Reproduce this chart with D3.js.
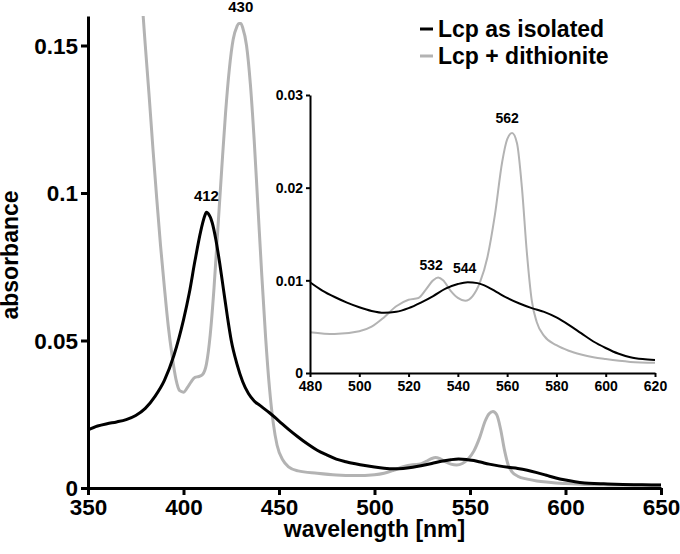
<!DOCTYPE html>
<html><head><meta charset="utf-8">
<script src="https://cdn.jsdelivr.net/npm/d3@7"></script>
<style>
html,body{margin:0;padding:0;background:#fff;}
svg{display:block;font-family:"Liberation Sans",Arial,sans-serif;font-weight:bold;}
</style></head>
<body>
<svg id="c" width="680" height="554"></svg>
<script>
// ---- data ----
const isolatedNm = [350,355,360,365,370,375,380,385,390,395,400,403,406,409,411,412,413,415,417,419,421,423,425,428,431,434,437,440,445,450,455,460,465,470,475,480,485,490,495,500,505,510,515,520,525,530,535,540,544,548,552,556,560,565,570,575,580,585,590,595,600,605,610,615,620,630,640,650];
const isolatedAbs = [0.0197,0.0210,0.0218,0.0224,0.0232,0.0246,0.0270,0.0310,0.0365,0.0450,0.0570,0.0660,0.0770,0.0870,0.0920,0.0935,0.0930,0.0900,0.0840,0.0760,0.0670,0.0580,0.0500,0.0420,0.0360,0.0320,0.0295,0.0280,0.0255,0.0227,0.0199,0.0173,0.0149,0.0128,0.0112,0.0098,0.0089,0.0082,0.0076,0.0071,0.0067,0.0065,0.0066,0.0070,0.0076,0.0083,0.0091,0.0096,0.0098,0.0097,0.0093,0.0087,0.0081,0.0075,0.0070,0.0066,0.0060,0.0052,0.0043,0.0034,0.0027,0.0021,0.0017,0.0015,0.0014,0.0012,0.0011,0.0010];

const dithNm = [376,378,380,382,384,386,388,390,392,394,396,398,400,402,404,406,408,410,412,414,416,418,420,422,424,426,428,429,430,431,433,435,437,439,441,443,445,447,449,452,455,460,470,480,490,500,505,510,515,520,524,527,530,532,534,537,540,543,546,549,552,555,558,560,562,564,566,568,570,572,575,580,585,590,595,600,610,620,630,640,650];
const dithAbs = [0.190,0.168,0.150,0.133,0.115,0.098,0.082,0.068,0.055,0.045,0.037,0.0330,0.0325,0.0340,0.0360,0.0375,0.0378,0.0385,0.0420,0.0520,0.0680,0.0880,0.1080,0.1270,0.1420,0.1520,0.1565,0.1575,0.1575,0.1560,0.1500,0.1370,0.1180,0.0950,0.0720,0.0510,0.0340,0.0220,0.0145,0.0095,0.0072,0.0058,0.0050,0.0044,0.0042,0.0045,0.0050,0.0060,0.0072,0.0079,0.0081,0.0090,0.0100,0.0103,0.0100,0.0089,0.0081,0.0078,0.0083,0.0098,0.0125,0.0170,0.0228,0.0252,0.0259,0.0248,0.0200,0.0130,0.0078,0.0055,0.0040,0.0030,0.0024,0.0020,0.0017,0.0015,0.0012,0.0011,0.0010,0.0010,0.0010];

const seriesNames = ["Lcp as isolated", "Lcp + dithionite"];
const seriesColors = ["#000000", "#b3b3b3"];

const mainXTicks = [350,400,450,500,550,600,650];
const mainYTicks = [0,0.05,0.1,0.15];
const mainYTickLabels = ["0","0.05","0.1","0.15"];
const insetXTicks = [480,500,520,540,560,580,600,620];
const insetYTicks = [0,0.01,0.02,0.03];
const insetYTickLabels = ["0","0.01","0.02","0.03"];

const mainPeakNm = [412,430];
const mainPeakAbs = [0.0935,0.1575];
const insetPeakNm = [532,544,562];
const insetPeakAbs = [0.0103,0.0098,0.0259];

// ---- drawing ----
const svg = d3.select("#c");
const isolated = isolatedNm.map((x,i)=>({x, y: isolatedAbs[i]}));
const dith = dithNm.map((x,i)=>({x, y: dithAbs[i]}));

// main scales
const x = d3.scaleLinear().domain([350,650]).range([88,661]);
const y = d3.scaleLinear().domain([0,0.16]).range([488,16]);

svg.append("defs").append("clipPath").attr("id","mclip")
  .append("rect").attr("x",88).attr("y",16).attr("width",573).attr("height",472);

const line = d3.line().x(d=>x(d.x)).y(d=>y(d.y)).curve(d3.curveMonotoneX);
const gLines = svg.append("g").attr("clip-path","url(#mclip)");
gLines.append("path").datum(dith).attr("d",line).attr("fill","none")
  .attr("stroke",seriesColors[1]).attr("stroke-width",3).attr("stroke-linejoin","round");
gLines.append("path").datum(isolated).attr("d",line).attr("fill","none")
  .attr("stroke",seriesColors[0]).attr("stroke-width",3).attr("stroke-linejoin","round");

// main axes
const xAxis = svg.append("g").attr("transform","translate(0,488)")
  .call(d3.axisBottom(x).tickValues(mainXTicks).tickSize(7).tickSizeOuter(0).tickFormat(d3.format("d")));
const yAxis = svg.append("g").attr("transform","translate(88,0)")
  .call(d3.axisLeft(y).tickValues(mainYTicks).tickSize(7).tickSizeOuter(0).tickFormat((d,i)=>mainYTickLabels[i]));
[xAxis,yAxis].forEach(a=>{
  a.select(".domain").attr("stroke","#000").attr("stroke-width",3);
  a.selectAll(".tick line").attr("stroke","#000").attr("stroke-width",3);
  a.selectAll(".tick text").attr("fill","#000").style("font-size","22.5px").style("font-weight","bold")
    .style("font-family","'Liberation Sans',Arial,sans-serif");
});
xAxis.selectAll(".tick text").attr("y",11).attr("dy","0.71em");
yAxis.selectAll(".tick text").attr("x",-10).attr("dy","0.34em");

// axis titles
svg.append("text").attr("x",(88+661)/2).attr("y",537).attr("text-anchor","middle")
  .style("font-size","23px").text("wavelength [nm]");
svg.append("text").attr("transform","translate(18,255) rotate(-90)").attr("text-anchor","middle")
  .style("font-size","23px").text("absorbance");

// main peak labels
svg.selectAll(".mpk").data(mainPeakNm).enter().append("text")
  .attr("x",d=>x(d)).attr("y",(d,i)=>y(mainPeakAbs[i])-11)
  .attr("text-anchor","middle").style("font-size","15px").text(d=>d);

// legend
const leg = svg.append("g");
seriesNames.forEach((n,i)=>{
  const cy = 29 + i*27;
  leg.append("line").attr("x1",420).attr("x2",433).attr("y1",cy).attr("y2",cy)
    .attr("stroke",seriesColors[i]).attr("stroke-width",3);
  leg.append("text").attr("x",438).attr("y",cy+8).style("font-size","23px").text(n);
});

// inset
const ix = d3.scaleLinear().domain([480,620]).range([310,655]);
const iy = d3.scaleLinear().domain([0,0.03]).range([373,95]);
const iline = d3.line().x(d=>ix(d.x)).y(d=>iy(d.y)).curve(d3.curveMonotoneX);
const insetD = dith.filter(d=>d.x>=480 && d.x<=620);
const insetI = isolated.filter(d=>d.x>=480 && d.x<=620);
svg.append("path").datum(insetD).attr("d",iline).attr("fill","none")
  .attr("stroke",seriesColors[1]).attr("stroke-width",2);
svg.append("path").datum(insetI).attr("d",iline).attr("fill","none")
  .attr("stroke",seriesColors[0]).attr("stroke-width",2);

const ixAxis = svg.append("g").attr("transform","translate(0,373)")
  .call(d3.axisBottom(ix).tickValues(insetXTicks).tickSize(4).tickSizeOuter(0).tickFormat(d3.format("d")));
const iyAxis = svg.append("g").attr("transform","translate(310,0)")
  .call(d3.axisLeft(iy).tickValues(insetYTicks).tickSize(4).tickSizeOuter(0).tickFormat((d,i)=>insetYTickLabels[i]));
[ixAxis,iyAxis].forEach(a=>{
  a.select(".domain").attr("stroke","#000").attr("stroke-width",2);
  a.selectAll(".tick line").attr("stroke","#000").attr("stroke-width",2);
  a.selectAll(".tick text").attr("fill","#000").style("font-size","14px").style("font-weight","bold")
    .style("font-family","'Liberation Sans',Arial,sans-serif");
});
ixAxis.selectAll(".tick text").attr("y",8).attr("dy","0.71em");
iyAxis.selectAll(".tick text").attr("x",-7).attr("dy","0.34em");

const insetLabelDx = [-7,-3,-5];
const insetLabelDy = [-8,-9,-10];
svg.selectAll(".ipk").data(insetPeakNm).enter().append("text")
  .attr("x",(d,i)=>ix(d)+insetLabelDx[i]).attr("y",(d,i)=>iy(insetPeakAbs[i])+insetLabelDy[i])
  .attr("text-anchor","middle").style("font-size","14px").text(d=>d);
</script>
</body></html>
